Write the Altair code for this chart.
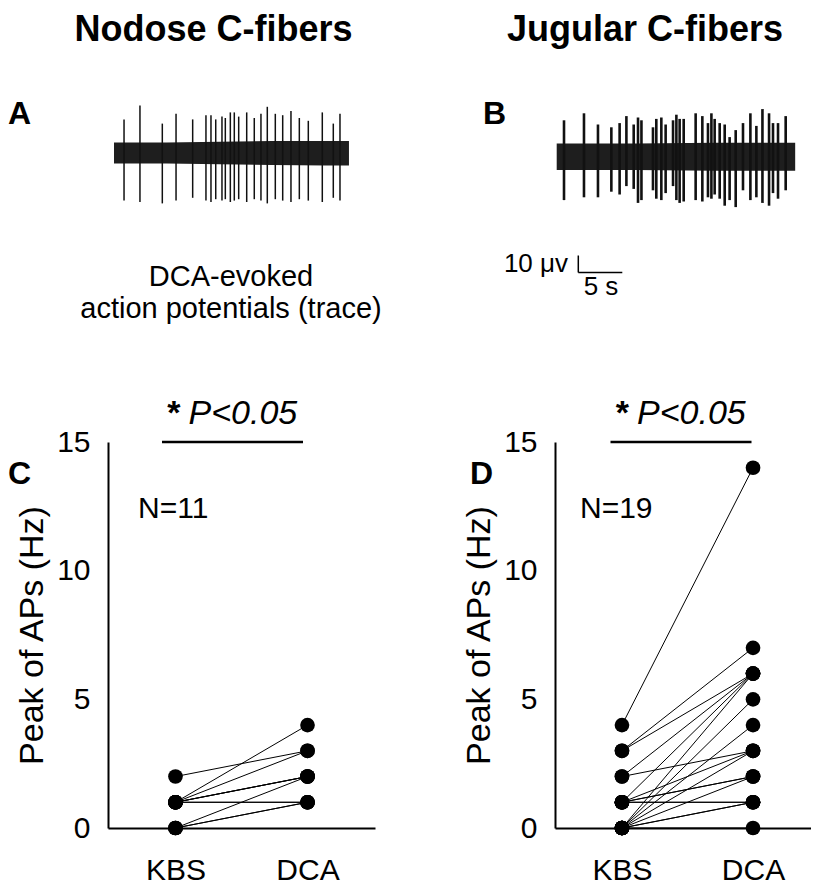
import altair as alt
import pandas as pd

FONT = "Liberation Sans"
W, H = 803, 880

# ---------------- data ----------------
conditions = ["KBS", "DCA"]

nodose_kbs = [2, 1, 1, 1, 1, 1, 1, 0, 0, 0, 1]
nodose_dca = [3, 4, 3, 2, 1, 2, 1, 2, 1, 1, 2]

jugular_kbs = [4, 3, 3, 2, 2, 1, 1, 1, 1, 0, 0, 0, 0, 0, 0, 1, 0, 1, 0]
jugular_dca = [14, 7, 6, 6, 3, 6, 3, 2, 1, 6, 5, 4, 2, 1, 0, 2, 1, 1, 3]

y_ticks = [0, 5, 10, 15]

# trace A (nodose): spike times (s), upward / downward peak (uV)
a_len = 26.7
a_spike_t = [1.14, 2.95, 5.49, 7.05, 8.94, 10.45, 11.02, 11.56, 12.27, 12.65, 13.22, 13.67,
             14.17, 15.08, 15.94, 16.70, 17.42, 18.33, 19.17, 20.11, 21.06, 22.08, 23.67,
             24.92, 25.68]
a_spike_up = [24, 34, 21, 28, 24, 27, 27, 24, 26, 25, 29, 29, 26, 29, 25, 28, 33, 28, 27, 30,
              25, 23, 29, 21, 28]
a_spike_down = [34, 35, 36, 34, 32, 34, 35, 33, 34, 33, 35, 34, 33, 35, 33, 34, 36, 33, 34, 35,
                33, 34, 35, 32, 34]
a_env_t = [0, 6, 12, 18, 24, 26.7]
a_env_hi = [7.5, 7.5, 8, 8.5, 8.5, 8.5]
a_env_lo = [-7.5, -7.5, -8, -8.5, -9, -9]

# trace B (jugular)
b_len = 27.1
b_spike_t = [0.83, 3.10, 4.69, 6.21, 7.15, 7.92, 8.75, 9.24, 9.63, 10.94, 11.32, 11.89, 12.38,
             13.22, 13.60, 13.97, 14.43, 15.79, 16.55, 17.19, 17.58, 17.95, 18.52, 19.09, 19.65,
             20.34, 21.17, 22.01, 22.69, 23.38, 24.13, 24.58, 25.15, 26.02]
b_spike_up = [26, 31, 23, 21, 24, 29, 23, 28, 26, 21, 27, 28, 23, 26, 30, 27, 27, 31, 29, 24,
              31, 27, 24, 23, 14, 19, 24, 31, 22, 34, 31, 24, 24, 29]
b_spike_down = [31, 29, 29, 25, 27, 21, 23, 33, 31, 24, 30, 31, 26, 21, 31, 33, 32, 31, 32, 29,
                30, 27, 30, 35, 31, 36, 24, 31, 29, 33, 35, 26, 30, 24]
b_env_t = [0, 9, 18, 27.1]
b_env_hi = [9.5, 9.5, 10, 10]
b_env_lo = [-9.5, -9.5, -10, -10]

scalebar_uv = 10
scalebar_s = 5
scalebar_labels = ["10 μv", "5 s"]

titles = ["Nodose C-fibers", "Jugular C-fibers"]
letters = ["A", "B", "C", "D"]
caption = ["DCA-evoked", "action potentials (trace)"]
n_labels = ["N=11", "N=19"]
sig_star = "*"
sig_p = "P<0.05"
y_title = "Peak of APs (Hz)"

# ---------------- layout constants (pixels, relative to plot origin) ----------------
PX_PER_S = 8.8
PX_PER_UV = 1.4
SB_PX_PER_UV = 1.7


def text_layer(txt, x, y, size, weight="normal", style="normal", align="left", line_height=None):
    kw = dict(font=FONT, fontSize=size, fontWeight=weight, fontStyle=style, align=align,
              baseline="alphabetic", color="black")
    if line_height is not None:
        kw["lineHeight"] = line_height
    return alt.Chart(pd.DataFrame({"t": [txt]})).mark_text(**kw).encode(
        text="t:N", x=alt.value(x), y=alt.value(y))


def trace_layers(length, spike_t, up, down, env_t, env_hi, env_lo, x0, yc, spike_w):
    xs = alt.Scale(domain=[0, length], range=[x0, x0 + length * PX_PER_S], nice=False, zero=False)
    ys = alt.Scale(domain=[-50, 50], range=[yc + 50 * PX_PER_UV, yc - 50 * PX_PER_UV],
                   nice=False, zero=False)
    env = pd.DataFrame({"t": env_t, "hi": env_hi, "lo": env_lo})
    spikes = pd.DataFrame({"t": spike_t, "up": up, "down": [-d for d in down]})
    band = alt.Chart(env).mark_area(color="#1e1e1e", opacity=1).encode(
        x=alt.X("t:Q", scale=xs, axis=None),
        y=alt.Y("hi:Q", scale=ys, axis=None),
        y2="lo:Q")
    sp = alt.Chart(spikes).mark_rule(color="#111111", strokeWidth=spike_w).encode(
        x=alt.X("t:Q", scale=xs, axis=None),
        y=alt.Y("up:Q", scale=ys, axis=None),
        y2="down:Q")
    return [band, sp]


def pair_df(kbs, dca):
    rows = []
    for i, (k, d) in enumerate(zip(kbs, dca)):
        rows.append({"id": i, "cond": conditions[0], "hz": k})
        rows.append({"id": i, "cond": conditions[1], "hz": d})
    return pd.DataFrame(rows)


def scatter_layers(kbs, dca, x_range, pad):
    df = pair_df(kbs, dca)
    xs = alt.Scale(type="point", domain=conditions, range=x_range, padding=pad)
    ys = alt.Scale(domain=[0, 15], range=[820, 434], nice=False, zero=False)
    lines = alt.Chart(df).mark_line(color="black", strokeWidth=1).encode(
        x=alt.X("cond:N", scale=xs, axis=None, sort=conditions),
        y=alt.Y("hz:Q", scale=ys, axis=None),
        detail="id:N")
    pts = alt.Chart(df).mark_circle(size=215, color="black", opacity=1).encode(
        x=alt.X("cond:N", scale=xs, sort=conditions, title=None,
                axis=alt.Axis(orient="bottom", offset=820 - H, domainColor="black",
                              domainWidth=2, ticks=False, tickSize=0, labelPadding=27,
                              labelFont=FONT, labelFontSize=30, labelColor="black",
                              labelAngle=0, grid=False)),
        y=alt.Y("hz:Q", scale=ys, title=y_title,
                axis=alt.Axis(orient="left", offset=-x_range[0], values=y_ticks,
                              domainColor="black", domainWidth=2, ticks=False, tickSize=0,
                              labelPadding=18, labelFont=FONT, labelFontSize=30,
                              labelColor="black", labelFlush=False, grid=False,
                              titleFont=FONT, titleFontSize=34, titleFontWeight="normal",
                              titleColor="black", titlePadding=7)))
    return [lines, pts]


layers = []

# titles and panel letters
layers.append(text_layer(titles[0], 205.5, 33, 36, weight="bold", align="center"))
layers.append(text_layer(titles[1], 637, 33, 36, weight="bold", align="center"))
layers.append(text_layer(letters[0], 0, 116, 32, weight="bold"))
layers.append(text_layer(letters[1], 475, 116, 32, weight="bold"))
layers.append(text_layer(letters[2], 0, 476, 32, weight="bold"))
layers.append(text_layer(letters[3], 462, 476, 32, weight="bold"))

# traces
layers += trace_layers(a_len, a_spike_t, a_spike_up, a_spike_down, a_env_t, a_env_hi,
                       a_env_lo, 106, 145, 1.5)
layers += trace_layers(b_len, b_spike_t, b_spike_up, b_spike_down, b_env_t, b_env_hi,
                       b_env_lo, 548.7, 148.7, 2.6)

# caption under trace A (two separate lines)
layers.append(text_layer(caption[0], 223, 278, 29, align="center"))
layers.append(text_layer(caption[1], 223, 310, 29, align="center"))

# scale bar (own scales)
sb_x = alt.Scale(domain=[0, scalebar_s], range=[570.3, 570.3 + scalebar_s * PX_PER_S],
                 nice=False, zero=False)
sb_y = alt.Scale(domain=[0, scalebar_uv], range=[264.5, 264.5 - scalebar_uv * SB_PX_PER_UV],
                 nice=False, zero=False)
sb = pd.DataFrame({"t0": [0, 0], "t1": [0, scalebar_s], "v0": [0, 0], "v1": [scalebar_uv, 0]})
layers.append(alt.Chart(sb).mark_rule(color="black", strokeWidth=1.5).encode(
    x=alt.X("t0:Q", scale=sb_x, axis=None), x2="t1:Q",
    y=alt.Y("v0:Q", scale=sb_y, axis=None), y2="v1:Q"))
layers.append(text_layer(scalebar_labels[0], 560, 264, 26, align="right"))
layers.append(text_layer(scalebar_labels[1], 593, 287, 26, align="center"))

# scatter panels
layers += scatter_layers(nodose_kbs, nodose_dca, [100, 367], 0.511)
layers += scatter_layers(jugular_kbs, jugular_dca, [547, 812], 0.511)

# N labels
layers.append(text_layer(n_labels[0], 130, 510, 30))
layers.append(text_layer(n_labels[1], 572, 510, 30))

# significance bars and text
for cx in (224.5, 673):
    layers.append(alt.Chart(pd.DataFrame({"k": [0]})).mark_rule(color="black", strokeWidth=2.5)
                  .encode(x=alt.value(cx - 70.5), x2=alt.value(cx + 70.5), y=alt.value(434)))
    layers.append(text_layer(sig_star, cx - 52, 416, 34, weight="bold", align="right"))
    layers.append(text_layer(sig_p, cx - 44, 416, 34, style="italic", align="left"))

chart = alt.layer(*layers).resolve_scale(x="independent", y="independent").properties(
    width=W, height=H, autosize=alt.AutoSizeParams(type="none"), padding=0
).configure_view(stroke=None)

chart.save("out.html", embed_options={"renderer": "svg", "actions": False})
